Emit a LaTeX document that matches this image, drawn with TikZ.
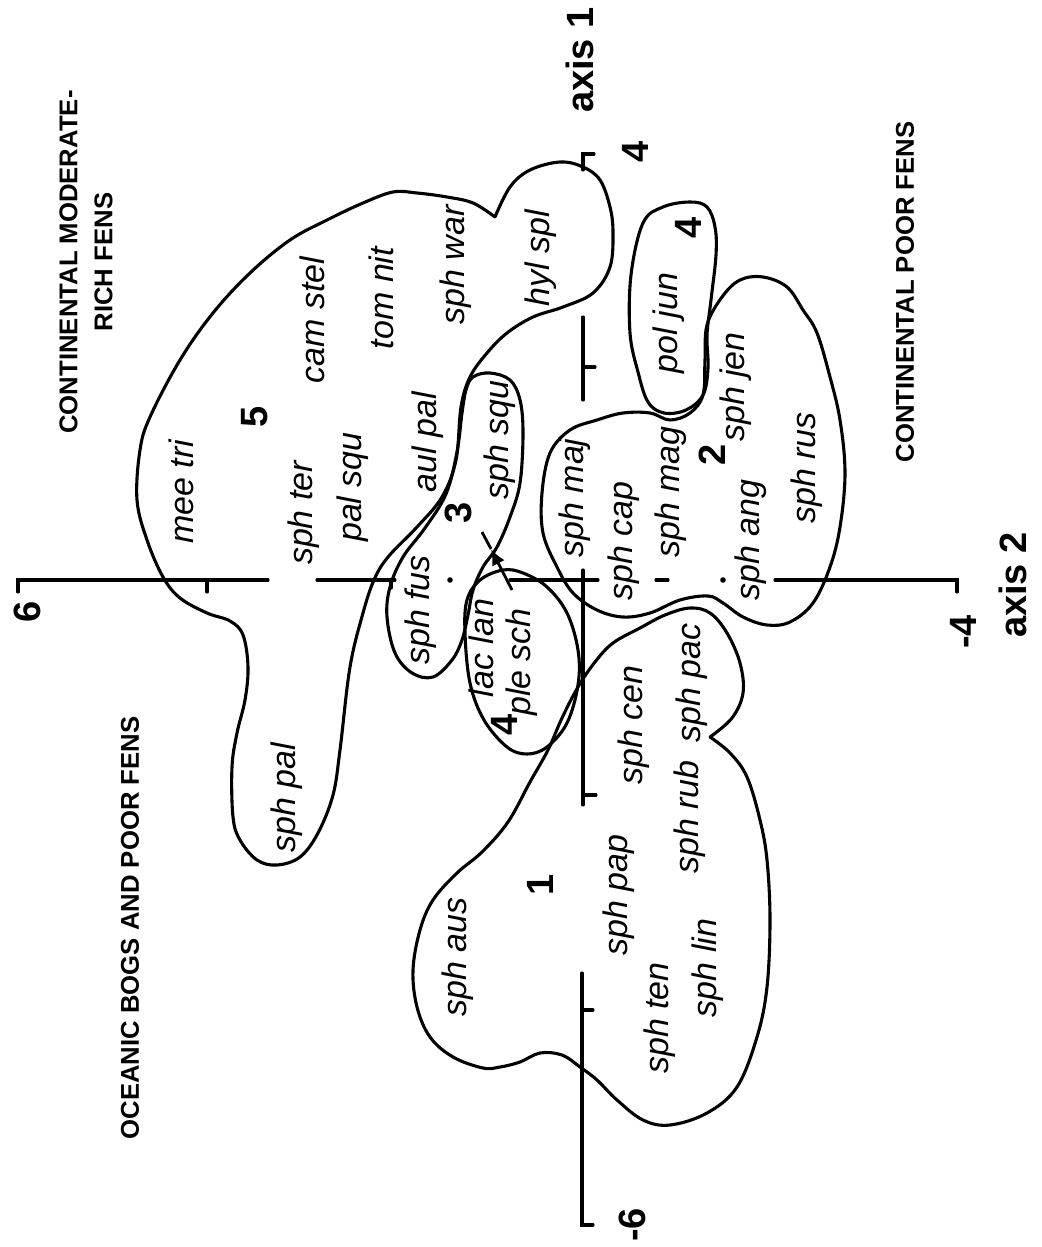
\documentclass[tikz,border=0pt]{standalone}
\usepackage{fontspec}
\setmainfont{Liberation Sans}
\usetikzlibrary{arrows.meta}
\newcommand{\fSp}{\fontsize{34}{40}\selectfont\itshape}
\newcommand{\fHd}{\fontsize{25.7}{35}\selectfont\bfseries}
\newcommand{\fNum}{\fontsize{38}{44}\selectfont\bfseries}
\newcommand{\fAx}{\fontsize{38}{44}\selectfont\bfseries}
\begin{document}
\begin{tikzpicture}[x=1pt,y=-1pt,
  sp/.style={rotate=90,font=\fSp,inner sep=0pt},
  hd/.style={rotate=90,font=\fHd,inner sep=0pt,align=center},
  num/.style={rotate=90,font=\fNum,inner sep=0pt},
  ax/.style={rotate=90,font=\fAx,inner sep=0pt},
  curve/.style={line width=3.1pt,line join=round,line cap=round},
  axline/.style={line width=3.1pt,line cap=round}]
\useasboundingbox[fill=white] (0,0) rectangle (1041,1247);

% ---------- axes ----------
% horizontal axis (axis 2)
\draw[axline] (18,592) -- (18,580) -- (268,580);
\draw[axline] (207,580) -- (207,592);
\draw[axline] (317,580) -- (395,580);
\draw[axline] (391,580) -- (391,588);
\fill (450,580) circle (2.8);
\draw[axline] (510,580) -- (598,580);
\draw[axline] (656,580) -- (668,580);
\fill (723,580) circle (2.8);
\draw[axline] (775,580) -- (957,580) -- (957,592);
% vertical axis (axis 1)
\draw[axline] (594,154) -- (583,154) -- (583,170);
\draw[axline] (583,317) -- (583,400);
\draw[axline] (583,367) -- (595,367);
\draw[axline] (583,570) -- (583,805);
\draw[axline] (583,795) -- (596,795);
\draw[axline] (582,973) -- (582,1225) -- (593,1225);
\draw[axline] (582,1010) -- (593,1010);

% ---------- group 5 (large upper blob) ----------
\draw[curve] plot[smooth,tension=0.6] coordinates {
 (495,217) (510,187) (530,170) (560,162) (583,167) (600,180) (610,207)
 (613,233) (610,267) (593,293) (563,307) (533,317) (507,333) (487,353)
 (470,377) (461,407) (456,460) (442,497) (417,527) (388,557) (374,580)
 (363,613) (350,667) (340,750) (333,795) (318,833) (300,857) (277,865)
 (257,860) (240,840) (233,817) (232,767) (237,733) (245,700) (248,667)
 (243,635) (230,621) (207,613) (180,598) (163,577) (147,540) (137,500)
 (140,450) (150,417) (180,360) (213,313) (250,273) (290,240) (327,220)
 (363,203) (393,192) (417,193) (447,197) (473,203) (495,217)};

% ---------- group 3 ----------
\draw[curve] plot[smooth cycle,tension=0.6] coordinates {
 (473,377) (490,373) (510,380) (520,400) (523,433) (520,483) (510,517)
 (497,547) (483,567) (473,590) (468,615) (462,640) (452,660) (433,677)
 (412,673) (395,653) (387,617) (390,587) (403,557) (425,528) (446,494)
 (457,452) (462,413) (466,390)};

% ---------- group 4 (lac lan / ple sch) ----------
\draw[curve] plot[smooth cycle,tension=0.6] coordinates {
 (503,570) (523,573) (547,587) (567,613) (578,650) (578,685) (567,723)
 (547,747) (527,754) (507,747) (484,720) (470,683) (465,633) (467,600)
 (480,580)};

% ---------- group 4 (pol jun) ----------
\draw[curve] plot[smooth cycle,tension=0.6] coordinates {
 (643,223) (663,207) (690,202) (707,207) (715,227) (716,255) (711,300)
 (707,335) (708,368) (703,395) (686,410) (664,413) (648,402) (638,372)
 (630,333) (631,275)};

% ---------- group 2 ----------
\draw[curve] plot[smooth cycle,tension=0.6] coordinates {
 (763,277) (787,287) (803,310) (817,333) (830,377) (840,420) (845,473)
 (840,527) (830,567) (813,603) (790,622) (767,625) (743,617) (723,603)
 (708,596) (680,600) (650,613) (623,617) (597,610) (573,593) (557,567)
 (543,533) (542,493) (550,453) (570,430) (597,420) (623,413) (650,413)
 (670,420) (690,413) (703,395) (705,360) (707,325) (722,297) (740,280)};

% ---------- group 1 ----------
\draw[curve] plot[smooth,tension=0.6] coordinates {
 (710,737) (730,753) (747,777) (760,820) (767,860) (770,920) (767,987)
 (757,1037) (737,1087) (707,1113) (670,1125) (643,1120) (617,1100)
 (597,1080) (580,1067) (562,1055) (540,1053) (520,1062) (500,1067)
 (483,1068) (453,1057) (430,1037) (417,1007) (413,970) (420,930)
 (433,900) (457,873) (482,852) (508,822) (530,782) (548,750) (562,718)
 (578,687) (595,662) (613,643) (640,628) (665,615) (690,608) (710,613)
 (727,633) (740,663) (743,693) (732,718) (710,737)};

% ---------- arrow ----------
\coordinate (arA) at (512,590);
\coordinate (arB) at (491,549);
\coordinate (arC) at (482,532);
\draw[line width=2.8pt,-{Latex[length=16pt,width=14pt]}] (arA) -- (arB);
\draw[line width=2.8pt] (arB) -- (arC);

% ---------- headings ----------
\node[hd] (hMod) at (86,262) {CONTINENTAL MODERATE-\\RICH FENS};
\node[hd] (hOce) at (130,928) {OCEANIC BOGS AND POOR FENS};
\node[hd] (hPoor) at (905,292) {CONTINENTAL POOR FENS};

% ---------- axis labels ----------
\node[ax] (axOne) at (580,60) {axis 1};
\node[ax] (axTwo) at (1013,585) {axis 2};
\node[num] (tFour) at (635,152) {4};
\node[num] (tSix) at (27,612) {6};
\node[num] (tMFour) at (963,632) {-4};
\node[num] (tMSix) at (632,1225) {-6};

% ---------- group numbers ----------
\node[num] (gFive) at (255,417) {5};
\node[num] (gThree) at (458,513) {3};
\node[num] (gTwo) at (712,455) {2};
\node[num] (gOne) at (540,885) {1};
\node[num] (gFourA) at (504,725) {4};
\node[num] (gFourB) at (688,228) {4};

% ---------- species ----------
\node[sp] (camstel) at (312,320) {cam stel};
\node[sp] (tomnit) at (381,298) {tom nit};
\node[sp] (sphwar) at (456,265) {sph war};
\node[sp] (hylspl) at (541,258) {hyl spl};
\node[sp] (meetri) at (181,492) {mee tri};
\node[sp] (sphter) at (304,513) {sph ter};
\node[sp] (palsqu) at (353,487) {pal squ};
\node[sp] (aulpal) at (428,442) {aul pal};
\node[sp] (sphsqu) at (500,440) {sph squ};
\node[sp] (sphfus) at (421,610) {sph fus};
\node[sp] (laclan) at (481,648) {lac lan};
\node[sp] (plesch) at (522,662) {ple sch};
\node[sp] (sphmaj) at (575,498) {sph maj};
\node[sp] (sphcap) at (624,541) {sph cap};
\node[sp] (sphmag) at (671,492) {sph mag};
\node[sp] (poljun) at (669,323) {pol jun};
\node[sp] (sphjen) at (736,387) {sph jen};
\node[sp] (sphang) at (751,540) {sph ang};
\node[sp] (sphrus) at (807,468) {sph rus};
\node[sp] (sphcen) at (634,725) {sph cen};
\node[sp] (sphpac) at (692,683) {sph pac};
\node[sp] (sphrub) at (690,817) {sph rub};
\node[sp] (sphpap) at (619,895) {sph pap};
\node[sp] (sphten) at (660,1018) {sph ten};
\node[sp] (sphlin) at (708,968) {sph lin};
\node[sp] (sphaus) at (458,957) {sph aus};
\node[sp] (sphpal) at (287,798) {sph pal};
\end{tikzpicture}
\end{document}
